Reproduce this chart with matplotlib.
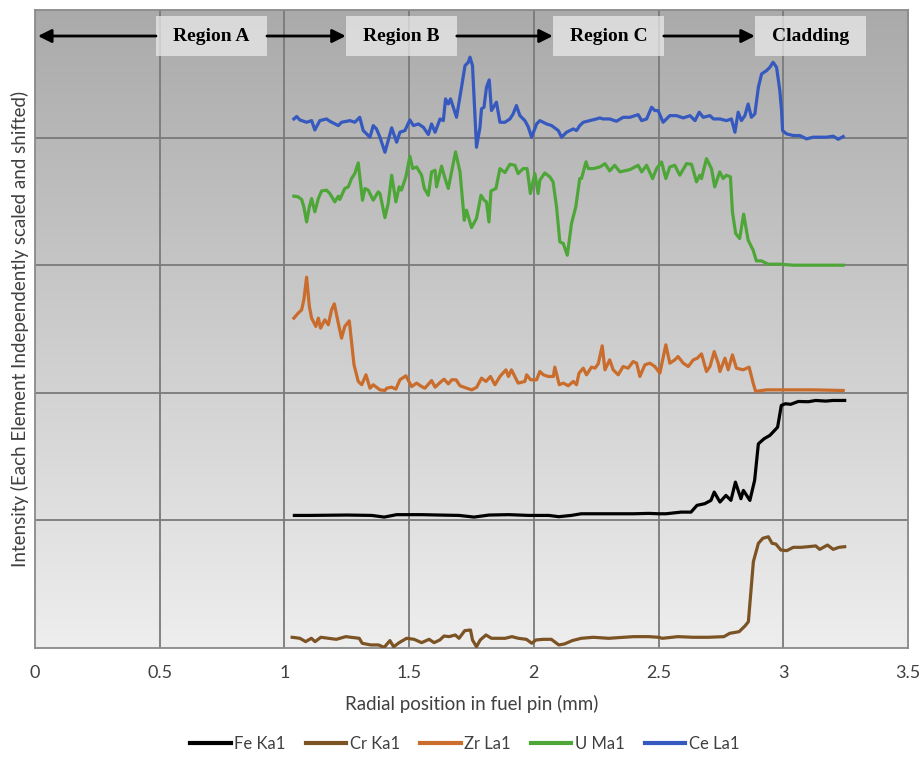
import numpy as np
import matplotlib
matplotlib.use("Agg")
import matplotlib.pyplot as plt
from matplotlib.colors import LinearSegmentedColormap

# ---------------- data ----------------
fe_x = [1.04, 1.10, 1.25, 1.35, 1.40, 1.45, 1.55, 1.62, 1.70, 1.76, 1.82, 1.90, 1.98, 2.06, 2.10,
        2.15, 2.19, 2.30, 2.40, 2.46, 2.50, 2.53, 2.59, 2.63, 2.654, 2.685, 2.71, 2.723, 2.746, 2.77,
        2.79, 2.808, 2.83, 2.84, 2.866, 2.885, 2.90, 2.923, 2.946, 2.977, 2.992, 3.008, 3.03, 3.06,
        3.10, 3.13, 3.17, 3.20, 3.246]
fe_y = [1.039, 1.039, 1.042, 1.039, 1.026, 1.045, 1.045, 1.042, 1.039, 1.026, 1.042, 1.045, 1.039, 1.039, 1.029,
        1.039, 1.052, 1.052, 1.052, 1.055, 1.052, 1.052, 1.065, 1.065, 1.118, 1.131, 1.157, 1.222, 1.144, 1.196,
        1.157, 1.300, 1.170, 1.235, 1.157, 1.314, 1.600, 1.640, 1.666, 1.730, 1.901, 1.914, 1.910, 1.932,
        1.930, 1.940, 1.935, 1.940, 1.940]

cr_x = [1.031, 1.062, 1.085, 1.108, 1.123, 1.146, 1.177, 1.208, 1.246, 1.300, 1.312, 1.346, 1.377, 1.400,
        1.423, 1.438, 1.460, 1.490, 1.520, 1.550, 1.580, 1.600, 1.623, 1.640, 1.660, 1.685, 1.700, 1.723,
        1.746, 1.754, 1.770, 1.785, 1.808, 1.830, 1.854, 1.885, 1.912, 1.938, 1.970, 1.992, 2.008, 2.038,
        2.070, 2.100, 2.123, 2.154, 2.190, 2.238, 2.300, 2.360, 2.400, 2.460, 2.500, 2.515, 2.577, 2.640,
        2.700, 2.762, 2.785, 2.823, 2.846, 2.860, 2.880, 2.900, 2.918, 2.940, 2.955, 2.970, 2.990, 3.014,
        3.040, 3.070, 3.100, 3.130, 3.146, 3.177, 3.200, 3.223, 3.246]
cr_y = [0.084, 0.076, 0.050, 0.076, 0.050, 0.084, 0.076, 0.068, 0.089, 0.076, 0.037, 0.024, 0.024, 0.005,
        0.058, 0.010, 0.042, 0.076, 0.068, 0.042, 0.068, 0.042, 0.063, 0.094, 0.089, 0.102, 0.076, 0.136,
        0.141, 0.063, 0.010, 0.063, 0.102, 0.076, 0.076, 0.076, 0.089, 0.076, 0.068, 0.037, 0.063, 0.068,
        0.068, 0.024, 0.032, 0.058, 0.076, 0.084, 0.076, 0.084, 0.089, 0.089, 0.084, 0.076, 0.089, 0.084,
        0.084, 0.089, 0.115, 0.128, 0.172, 0.206, 0.677, 0.820, 0.860, 0.872, 0.820, 0.815, 0.768, 0.763,
        0.789, 0.789, 0.794, 0.800, 0.773, 0.807, 0.773, 0.789, 0.794]

zr_x = [1.038, 1.055, 1.069, 1.078, 1.089, 1.100, 1.109, 1.126, 1.136, 1.145, 1.162, 1.176, 1.189, 1.200,
        1.216, 1.229, 1.242, 1.260, 1.279, 1.296, 1.310, 1.327, 1.343, 1.356, 1.383, 1.403, 1.410, 1.430,
        1.447, 1.463, 1.487, 1.510, 1.530, 1.550, 1.563, 1.590, 1.604, 1.624, 1.640, 1.657, 1.671, 1.688,
        1.704, 1.731, 1.751, 1.771, 1.790, 1.808, 1.826, 1.844, 1.864, 1.888, 1.898, 1.910, 1.937, 1.964,
        1.971, 1.987, 2.011, 2.024, 2.038, 2.058, 2.078, 2.084, 2.102, 2.118, 2.138, 2.158, 2.171, 2.181,
        2.198, 2.211, 2.231, 2.245, 2.258, 2.274, 2.285, 2.304, 2.318, 2.338, 2.358, 2.378, 2.398, 2.412,
        2.425, 2.445, 2.465, 2.485, 2.505, 2.529, 2.545, 2.565, 2.578, 2.599, 2.619, 2.639, 2.655, 2.672,
        2.692, 2.706, 2.723, 2.739, 2.746, 2.766, 2.779, 2.796, 2.812, 2.839, 2.863, 2.879, 2.889, 2.932,
        3.012, 3.119, 3.240]
zr_y = [2.585, 2.624, 2.650, 2.729, 2.906, 2.676, 2.585, 2.520, 2.585, 2.507, 2.572, 2.533, 2.650, 2.697,
        2.546, 2.428, 2.520, 2.564, 2.219, 2.089, 2.063, 2.141, 2.036, 2.063, 2.023, 2.018, 2.036, 2.044,
        2.029, 2.102, 2.133, 2.049, 2.076, 2.049, 2.036, 2.096, 2.044, 2.081, 2.107, 2.070, 2.102, 2.102,
        2.055, 2.036, 2.023, 2.044, 2.115, 2.089, 2.128, 2.063, 2.128, 2.180, 2.128, 2.180, 2.076, 2.089,
        2.141, 2.102, 2.102, 2.167, 2.141, 2.128, 2.128, 2.201, 2.063, 2.076, 2.055, 2.089, 2.063, 2.154,
        2.193, 2.141, 2.201, 2.193, 2.227, 2.368, 2.180, 2.258, 2.180, 2.141, 2.206, 2.193, 2.245, 2.232,
        2.128, 2.219, 2.232, 2.206, 2.154, 2.376, 2.232, 2.258, 2.284, 2.232, 2.206, 2.258, 2.271, 2.305,
        2.167, 2.206, 2.323, 2.232, 2.167, 2.271, 2.180, 2.297, 2.193, 2.180, 2.201, 2.076, 2.011, 2.023,
        2.023, 2.023, 2.018]

u_x = [1.038, 1.055, 1.069, 1.078, 1.089, 1.100, 1.109, 1.122, 1.136, 1.149, 1.169, 1.182, 1.202, 1.216,
       1.222, 1.242, 1.256, 1.269, 1.282, 1.296, 1.313, 1.323, 1.336, 1.356, 1.376, 1.383, 1.403, 1.416,
       1.430, 1.447, 1.460, 1.469, 1.487, 1.503, 1.514, 1.530, 1.550, 1.561, 1.577, 1.590, 1.604, 1.610,
       1.630, 1.644, 1.657, 1.686, 1.704, 1.721, 1.730, 1.750, 1.770, 1.788, 1.801, 1.810, 1.820, 1.828,
       1.848, 1.864, 1.884, 1.904, 1.924, 1.937, 1.957, 1.973, 1.986, 2.004, 2.017, 2.024, 2.044, 2.064,
       2.077, 2.091, 2.104, 2.118, 2.134, 2.151, 2.168, 2.184, 2.191, 2.209, 2.218, 2.238, 2.265, 2.285,
       2.304, 2.324, 2.345, 2.385, 2.418, 2.432, 2.452, 2.476, 2.492, 2.512, 2.529, 2.545, 2.565, 2.585,
       2.612, 2.632, 2.652, 2.665, 2.672, 2.692, 2.712, 2.725, 2.745, 2.759, 2.772, 2.788, 2.796, 2.809,
       2.825, 2.841, 2.859, 2.879, 2.892, 2.912, 2.939, 2.986, 3.039, 3.119, 3.240]
u_y = [3.541, 3.536, 3.515, 3.457, 3.339, 3.457, 3.522, 3.418, 3.522, 3.582, 3.588, 3.562, 3.496, 3.541,
       3.515, 3.601, 3.614, 3.679, 3.718, 3.802, 3.509, 3.601, 3.588, 3.509, 3.575, 3.562, 3.373, 3.483,
       3.705, 3.496, 3.614, 3.588, 3.692, 3.854, 3.757, 3.770, 3.705, 3.601, 3.548, 3.731, 3.744, 3.614,
       3.776, 3.679, 3.601, 3.888, 3.731, 3.352, 3.431, 3.295, 3.366, 3.548, 3.509, 3.496, 3.339, 3.582,
       3.601, 3.757, 3.726, 3.791, 3.783, 3.718, 3.757, 3.757, 3.562, 3.718, 3.562, 3.666, 3.723, 3.692,
       3.653, 3.457, 3.183, 3.170, 3.078, 3.327, 3.457, 3.679, 3.679, 3.810, 3.757, 3.757, 3.770, 3.796,
       3.739, 3.783, 3.731, 3.749, 3.783, 3.731, 3.783, 3.679, 3.757, 3.809, 3.679, 3.770, 3.783, 3.705,
       3.796, 3.791, 3.653, 3.705, 3.679, 3.835, 3.757, 3.614, 3.731, 3.679, 3.705, 3.692, 3.418, 3.248,
       3.209, 3.400, 3.196, 3.118, 3.034, 3.034, 3.008, 3.008, 3.000, 3.000, 3.000]

ce_x = [1.038, 1.049, 1.062, 1.089, 1.109, 1.122, 1.142, 1.169, 1.182, 1.216, 1.229, 1.263, 1.282, 1.302,
        1.316, 1.343, 1.356, 1.369, 1.383, 1.403, 1.430, 1.450, 1.463, 1.483, 1.503, 1.517, 1.537, 1.557,
        1.577, 1.590, 1.604, 1.624, 1.637, 1.646, 1.657, 1.666, 1.677, 1.690, 1.710, 1.724, 1.737, 1.744,
        1.754, 1.770, 1.784, 1.790, 1.800, 1.810, 1.821, 1.830, 1.850, 1.864, 1.884, 1.904, 1.917, 1.930,
        1.944, 1.964, 1.977, 1.991, 2.011, 2.024, 2.051, 2.071, 2.098, 2.111, 2.131, 2.158, 2.171, 2.184,
        2.198, 2.224, 2.251, 2.264, 2.278, 2.304, 2.331, 2.358, 2.385, 2.418, 2.432, 2.452, 2.472, 2.485,
        2.498, 2.518, 2.545, 2.572, 2.599, 2.626, 2.646, 2.663, 2.679, 2.706, 2.720, 2.746, 2.772, 2.792,
        2.806, 2.819, 2.832, 2.846, 2.859, 2.872, 2.886, 2.900, 2.913, 2.933, 2.946, 2.959, 2.973, 2.986,
        2.993, 2.997, 3.013, 3.040, 3.066, 3.093, 3.120, 3.146, 3.173, 3.200, 3.220, 3.240]
ce_y = [4.146, 4.165, 4.138, 4.120, 4.133, 4.060, 4.133, 4.146, 4.128, 4.094, 4.120, 4.133, 4.120, 4.159,
        4.055, 4.003, 4.094, 4.068, 4.003, 3.885, 4.076, 3.964, 4.042, 4.055, 4.138, 4.094, 4.107, 4.081,
        4.024, 4.107, 4.042, 4.146, 4.133, 4.303, 4.263, 4.303, 4.238, 4.159, 4.394, 4.564, 4.590, 4.630,
        4.564, 3.924, 4.081, 4.225, 4.238, 4.394, 4.452, 4.212, 4.277, 4.120, 4.120, 4.146, 4.186, 4.251,
        4.172, 4.133, 4.086, 4.003, 4.107, 4.133, 4.107, 4.094, 4.055, 4.003, 4.042, 4.068, 4.055, 4.094,
        4.120, 4.133, 4.146, 4.154, 4.146, 4.146, 4.128, 4.159, 4.159, 4.180, 4.133, 4.146, 4.238, 4.212,
        4.212, 4.120, 4.172, 4.172, 4.154, 4.172, 4.133, 4.199, 4.159, 4.172, 4.146, 4.146, 4.133, 4.146,
        4.042, 4.199, 4.133, 4.172, 4.263, 4.159, 4.186, 4.394, 4.499, 4.525, 4.551, 4.590, 4.551, 4.368,
        4.212, 4.055, 4.029, 4.016, 4.016, 3.990, 4.003, 4.003, 4.003, 4.011, 3.987, 4.008]

series_names = ["Fe Ka1", "Cr Ka1", "Zr La1", "U Ma1", "Ce La1"]
series_colors = ["#000000", "#7b5325", "#c96c2c", "#4ea639", "#3559be"]

region_labels = ["Region A", "Region B", "Region C", "Cladding"]
region_box_x = [0.485, 1.246, 2.076, 2.886]
region_box_w = 0.445

x_ticks = [0, 0.5, 1, 1.5, 2, 2.5, 3, 3.5]
x_tick_labels = ["0", "0.5", "1", "1.5", "2", "2.5", "3", "3.5"]

# ---------------- figure ----------------
narrow = ["Lato", "DejaVu Sans"]
fig = plt.figure(figsize=(9.2, 7.62), dpi=100)
ax = fig.add_axes([0.038, 0.1496, 0.949, 0.8373])
ax.set_xlim(0, 3.5)
ax.set_ylim(0, 5)

# gradient background
grad = np.linspace(0, 1, 256).reshape(-1, 1)
cmap = LinearSegmentedColormap.from_list("bg", ["#eeeeee", "#aaaaaa"])
ax.imshow(grad, extent=[0, 3.5, 0, 5], origin="lower", aspect="auto", cmap=cmap, zorder=0)

for xv in x_ticks[1:-1]:
    ax.axvline(xv, color="#7a7a7a", lw=1.3, zorder=1)
for yv in [1, 2, 3, 4]:
    ax.axhline(yv, color="#7a7a7a", lw=1.3, zorder=1)
for sp in ax.spines.values():
    sp.set_color("#8a8a8a")
    sp.set_linewidth(1.3)

xs = [fe_x, cr_x, zr_x, u_x, ce_x]
ys = [fe_y, cr_y, zr_y, u_y, ce_y]
for sx, sy, name, col in zip(xs, ys, series_names, series_colors):
    ax.plot(sx, sy, color=col, lw=2.3, label=name, zorder=3, solid_joinstyle="round")

# region boxes and arrows
y0, y1 = 4.639, 4.953
ymid = (y0 + y1) / 2
for lbl, bx in zip(region_labels, region_box_x):
    ax.add_patch(plt.Rectangle((bx, y0), region_box_w, y1 - y0, facecolor="#ececec",
                               alpha=0.72, edgecolor="none", zorder=4))
    ax.text(bx + region_box_w / 2, ymid, lbl, ha="center", va="center",
            fontsize=14, fontweight="bold", family="Liberation Serif", zorder=5)

arrow_kw = dict(arrowstyle="-|>", lw=2.0, color="black", mutation_scale=20,
                shrinkA=0, shrinkB=0)
ax.annotate("", xy=(0.012, ymid), xytext=(region_box_x[0], ymid), arrowprops=arrow_kw, zorder=5)
for i in range(3):
    ax.annotate("", xy=(region_box_x[i + 1], ymid),
                xytext=(region_box_x[i] + region_box_w, ymid), arrowprops=arrow_kw, zorder=5)

ax.set_xticks(x_ticks)
ax.set_xticklabels(x_tick_labels, family=narrow, fontsize=13, color="#404040")
ax.tick_params(axis="x", length=0, pad=12)
ax.set_yticks([])
ax.set_xlabel("Radial position in fuel pin (mm)", family=narrow, fontsize=13.5,
              color="#404040", labelpad=10)
ax.set_ylabel("Intensity (Each Element Independently scaled and shifted)", family=narrow,
              fontsize=13.5, color="#404040", labelpad=4)

leg = fig.legend(loc="lower center", bbox_to_anchor=(0.505, -0.006), ncol=5, frameon=False,
                 prop={"family": narrow, "size": 12}, handlelength=2.45, columnspacing=1.2,
                 handletextpad=0.2)
for t in leg.get_texts():
    t.set_color("#404040")
for h in leg.legend_handles:
    h.set_linewidth(3)

fig.savefig("out.png", dpi=100)
